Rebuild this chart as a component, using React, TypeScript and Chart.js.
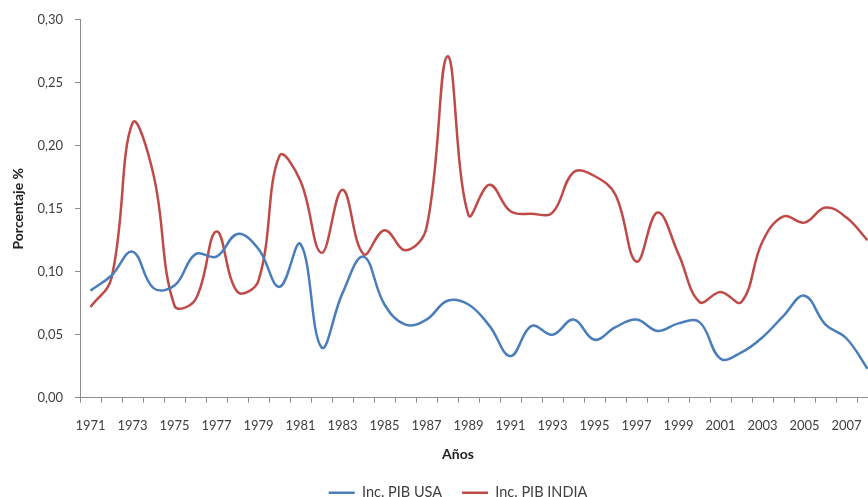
import React, { useEffect, useRef } from 'react';
import { Chart, registerables } from 'chart.js';

Chart.register(...registerables);

const years = [
  '1971', '1972', '1973', '1974', '1975', '1976', '1977', '1978', '1979', '1980',
  '1981', '1982', '1983', '1984', '1985', '1986', '1987', '1988', '1989', '1990',
  '1991', '1992', '1993', '1994', '1995', '1996', '1997', '1998', '1999', '2000',
  '2001', '2002', '2003', '2004', '2005', '2006', '2007', '2008',
];

const usaGrowth = [
  0.085, 0.097, 0.116, 0.087, 0.089, 0.114, 0.112, 0.130, 0.118, 0.088,
  0.122, 0.040, 0.083, 0.112, 0.074, 0.058, 0.062, 0.077, 0.074, 0.057,
  0.033, 0.057, 0.050, 0.062, 0.046, 0.056, 0.062, 0.053, 0.059, 0.060,
  0.031, 0.036, 0.048, 0.065, 0.081, 0.058, 0.047, 0.023,
];

const indiaGrowth = [
  0.072, 0.095, 0.218, 0.177, 0.073, 0.078, 0.132, 0.084, 0.093, 0.192,
  0.172, 0.115, 0.165, 0.114, 0.133, 0.117, 0.135, 0.271, 0.145, 0.169,
  0.148, 0.146, 0.147, 0.179, 0.176, 0.161, 0.108, 0.147, 0.114, 0.076,
  0.084, 0.076, 0.124, 0.144, 0.139, 0.151, 0.143, 0.125,
];

const yMin = 0;
const yMax = 0.3;
const yStep = 0.05;

const seriesNames = ['Inc. PIB USA', 'Inc. PIB INDIA'];
const seriesColors = ['#4A7EBB', '#BE4B48'];
const axisColor = '#8C8C8C';
const tickColor = '#404040';

export default function App() {
  const ref = useRef<HTMLCanvasElement>(null);

  useEffect(() => {
    document.body.style.margin = '0';
    if (!ref.current) return;
    const tickFont = { family: 'Lato', size: 13 };
    const titleFont = { family: 'Lato', size: 14, weight: 'bold' as const };
    const chart = new Chart(ref.current, {
      type: 'line',
      data: {
        labels: years,
        datasets: [
          {
            label: seriesNames[0],
            data: usaGrowth,
            borderColor: seriesColors[0],
            backgroundColor: seriesColors[0],
            borderWidth: 2.5,
            pointRadius: 0,
            tension: 0.4,
            fill: false,
          },
          {
            label: seriesNames[1],
            data: indiaGrowth,
            borderColor: seriesColors[1],
            backgroundColor: seriesColors[1],
            borderWidth: 2.5,
            pointRadius: 0,
            tension: 0.4,
            fill: false,
          },
        ],
      },
      options: {
        responsive: false,
        animation: false,
        devicePixelRatio: 1,
        layout: { padding: { top: 18, right: 36, bottom: 0, left: 38 } },
        plugins: {
          legend: {
            position: 'bottom',
            weight: 1000,
            labels: {
              usePointStyle: true,
              pointStyle: 'line',
              pointStyleWidth: 26,
              font: { family: 'Lato', size: 14.5 },
              color: tickColor,
              padding: 20,
            },
          } as any,
          title: {
            display: true,
            position: 'bottom',
            text: 'Años',
            weight: 500,
            font: titleFont,
            color: '#222222',
            padding: { top: 8, bottom: 3 },
          } as any,
          tooltip: { enabled: false },
        },
        scales: {
          x: {
            type: 'category',
            offset: true,
            grid: {
              offset: true,
              drawOnChartArea: false,
              drawTicks: true,
              tickLength: 5,
              color: axisColor,
            },
            border: { color: axisColor },
            ticks: {
              autoSkip: false,
              maxRotation: 0,
              minRotation: 0,
              padding: 15,
              font: tickFont,
              color: tickColor,
              callback: (_v: any, i: number) => (i % 2 === 0 ? years[i] : ''),
            },
            afterFit: (s: any) => {
              s.height = 40;
            },
          },
          y: {
            min: yMin,
            max: yMax,
            grid: {
              drawOnChartArea: false,
              drawTicks: true,
              tickLength: 5,
              color: axisColor,
            },
            border: { color: axisColor },
            ticks: {
              stepSize: yStep,
              padding: 12,
              font: tickFont,
              color: tickColor,
              callback: (v: any) => Number(v).toFixed(2).replace('.', ','),
            },
            title: {
              display: true,
              text: 'Porcentaje %',
              font: titleFont,
              color: '#222222',
              padding: { top: -28, bottom: 0 },
            },
            afterFit: (s: any) => {
              s.width = 42;
            },
          },
        },
      },
    });
    return () => chart.destroy();
  }, []);

  return (
    <div
      style={{
        width: 868,
        height: 497,
        overflow: 'hidden',
        position: 'relative',
        background: '#ffffff',
      }}
    >
      <canvas ref={ref} width={914} height={510} style={{ display: 'block' }} />
    </div>
  );
}
